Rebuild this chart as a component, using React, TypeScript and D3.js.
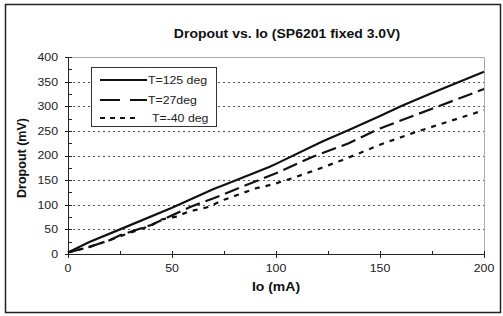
import React from 'react';
import * as d3 from 'd3';

const ioHot = [0, 10, 25, 50, 70, 75, 97, 100, 122, 135, 150, 160, 175, 200];
const dropHot = [3, 24, 50, 94, 132, 140, 177, 183, 228, 252, 280, 300, 327, 370];

const ioRoom = [0, 10, 20, 25, 40, 45, 59, 70, 84, 100, 118, 135, 150, 175, 200];
const dropRoom = [3, 14, 28, 38, 59, 69, 96, 113, 137, 164, 198, 225, 255, 295, 335];

const ioCold = [0, 10, 20, 25, 40, 45, 52, 58, 67, 75, 90, 99, 110, 120, 132, 145, 150, 166, 180, 200];
const dropCold = [3, 14, 28, 36, 58, 70, 76, 86, 95, 110, 133, 142, 157, 172, 191, 213, 222, 246, 265, 292];

const seriesNames = ['T=125 deg', 'T=27deg', 'T=-40 deg'];
const dashes = ['none', '15,6', '5,6'];
const legendDashes = ['none', '20,10', '5,5'];
const xTicks = [0, 50, 100, 150, 200];
const yTicks = [0, 50, 100, 150, 200, 250, 300, 350, 400];

const App = () => {
  const W = 503;
  const H = 316;
  const left = 68, right = 484, top = 57, bottom = 254;
  const x = d3.scaleLinear().domain([0, 200]).range([left, right]);
  const y = d3.scaleLinear().domain([0, 400]).range([bottom, top]);
  const line = d3.line<[number, number]>().x(d => x(d[0])).y(d => y(d[1]));

  const series = [
    ioHot.map((v, i) => [v, dropHot[i]] as [number, number]),
    ioRoom.map((v, i) => [v, dropRoom[i]] as [number, number]),
    ioCold.map((v, i) => [v, dropCold[i]] as [number, number]),
  ];

  const font = 'Arial, "Liberation Sans", sans-serif';
  const minorY = d3.range(25, 400, 50);
  const minorX = d3.range(25, 200, 50);
  // text in the original is slightly stretched horizontally
  const stretch = (cx: number, cy: number) => `translate(${cx},${cy}) scale(1.12,1) translate(${-cx},${-cy})`;

  return (
    <svg width={W} height={H} style={{ position: 'absolute', left: 0, top: 0 }} fontFamily={font}>
      <rect x={0} y={0} width={W} height={H} fill="#fff" />
      <rect x={5.5} y={4.5} width={495} height={308} fill="none" stroke="#222" strokeWidth={1.5} />
      <text x={287} y={38} textAnchor="middle" fontSize={12.5} fontWeight="bold" fill="#111"
        transform={stretch(287, 38)}>
        Dropout vs. Io (SP6201 fixed 3.0V)
      </text>

      {/* grid */}
      {yTicks.filter(t => t > 0 && t < 400).map(t => (
        <line key={t} x1={left} x2={right} y1={Math.round(y(t)) + 0.5} y2={Math.round(y(t)) + 0.5}
          stroke="#555" strokeDasharray="2,3" />
      ))}
      <path d={`M${left},${top + 0.5}H${right + 0.5}V${bottom}`} fill="none" stroke="#aaa" />

      {/* axes */}
      <line x1={left + 0.5} x2={left + 0.5} y1={top} y2={bottom} stroke="#222" />
      <line x1={left} x2={right + 1} y1={bottom + 0.5} y2={bottom + 0.5} stroke="#222" />
      {yTicks.map(t => (
        <g key={t}>
          <line x1={left - 3} x2={left + 4} y1={Math.round(y(t)) + 0.5} y2={Math.round(y(t)) + 0.5} stroke="#222" />
          <text x={58} y={y(t) + 4} textAnchor="end" fontSize={11} fill="#222"
            transform={stretch(58, y(t))}>{t}</text>
        </g>
      ))}
      {minorY.map(t => (
        <line key={t} x1={left} x2={left + 4} y1={Math.round(y(t)) + 0.5} y2={Math.round(y(t)) + 0.5} stroke="#222" />
      ))}
      {xTicks.map(t => (
        <g key={t}>
          <line x1={Math.round(x(t)) + 0.5} x2={Math.round(x(t)) + 0.5} y1={bottom - 3} y2={bottom + 4} stroke="#222" />
          <text x={x(t)} y={272} textAnchor="middle" fontSize={11} fill="#222"
            transform={stretch(x(t), 272)}>{t}</text>
        </g>
      ))}
      {minorX.map(t => (
        <line key={t} x1={Math.round(x(t)) + 0.5} x2={Math.round(x(t)) + 0.5} y1={bottom - 3} y2={bottom} stroke="#222" />
      ))}

      {/* series */}
      {series.map((s, i) => (
        <path key={i} d={line(s) || ''} fill="none" stroke="#111" strokeWidth={2.2}
          strokeDasharray={dashes[i]} />
      ))}

      <text x={276} y={291} textAnchor="middle" fontSize={12.5} fontWeight="bold" fill="#111"
        transform={stretch(276, 291)}>Io (mA)</text>
      <text transform="translate(26,158) rotate(-90)" textAnchor="middle" fontSize={12.5} fontWeight="bold" fill="#111">
        Dropout (mV)
      </text>

      {/* legend */}
      <rect x={91.5} y={67.5} width={125} height={59} fill="#fff" stroke="#333" />
      {seriesNames.map((n, i) => {
        const ly = [80, 100, 118][i];
        const tx = i === 2 ? 152 : 148;
        return (
          <g key={n}>
            <line x1={100} x2={i === 2 ? 140 : 147} y1={ly} y2={ly} stroke="#111" strokeWidth={2.2}
              strokeDasharray={legendDashes[i]} />
            <text x={tx} y={ly + 4} fontSize={11} fill="#222" transform={stretch(tx, ly)}>{n}</text>
          </g>
        );
      })}
    </svg>
  );
};

export default App;
